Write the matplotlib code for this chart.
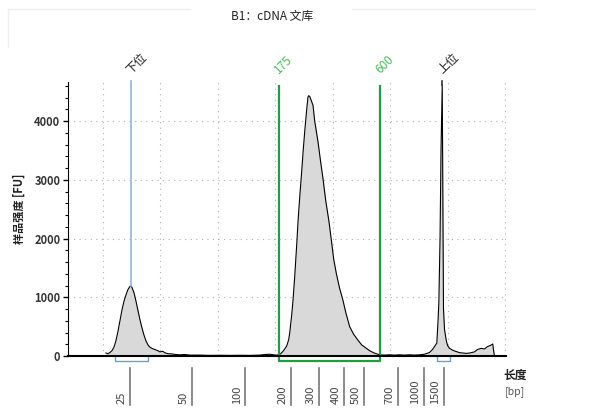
import matplotlib
matplotlib.use('Agg')
import matplotlib.pyplot as plt
import matplotlib.transforms as mtransforms
from matplotlib.lines import Line2D

plt.rcParams['font.family'] = ['Noto Sans CJK SC', 'DejaVu Sans']

# electropherogram trace (migration time units, fluorescence FU)
trace_x = [10.57, 10.92, 11.27, 11.62, 11.96, 12.31, 12.66, 13.01, 13.35, 13.70,
           14.05, 14.39, 14.74, 14.92, 15.09, 15.44, 15.78, 16.13, 16.48, 16.83,
           17.17, 17.52, 17.87, 18.22, 18.56, 19.08, 19.61, 19.95, 20.47, 20.82,
           21.34, 22.04, 22.73, 23.43, 24.30, 25.16, 26.90, 28.64, 30.38, 32.11,
           33.85, 35.59, 37.32, 38.19, 39.06, 39.76, 40.28, 40.62, 40.97, 41.32,
           41.67, 42.01, 42.36, 42.53, 42.88, 43.11, 43.40, 43.80, 43.98, 44.27,
           44.57, 44.88, 45.14, 45.49, 45.71, 45.83, 46.01, 46.27, 46.58, 46.88,
           47.45, 47.92, 48.32, 48.79, 49.36, 49.78, 50.18, 50.65, 51.22, 51.79,
           52.26, 52.96, 53.65, 54.40, 55.04, 55.86, 56.43, 57.13, 57.60, 58.17,
           59.04, 59.91, 60.77, 61.64, 62.51, 63.38, 64.25, 65.11, 65.98, 66.85,
           67.37, 67.72, 68.12, 68.33, 68.47, 68.68, 68.85, 69.06, 69.20, 69.28,
           69.46, 69.75, 69.98, 70.33, 70.85, 71.37, 72.07, 73.23, 73.81, 74.67,
           75.19, 75.83, 76.41, 76.93, 77.45, 77.85, 78.00, 78.14]
trace_fu = [50, 40, 60, 90, 150, 260, 420, 600, 780, 930,
            1040, 1130, 1185, 1195, 1170, 1080, 940, 780, 620, 480,
            360, 260, 190, 150, 130, 110, 90, 70, 80, 55,
            40, 35, 25, 20, 25, 15, 15, 10, 12, 10,
            12, 10, 15, 25, 30, 20, 15, 20, 40, 75,
            120, 170, 280, 390, 700, 950, 1350, 1975, 2290, 2700,
            3080, 3500, 3820, 4200, 4410, 4430, 4420, 4350, 4270, 4000,
            3650, 3300, 3020, 2650, 2290, 1970, 1650, 1400, 1150, 950,
            750, 500, 370, 270, 190, 130, 90, 55, 40, 20,
            15, 20, 15, 20, 15, 20, 15, 20, 30, 60,
            110, 160, 220, 600, 900, 2000, 3500, 4620, 2200, 800,
            450, 270, 180, 130, 100, 80, 57, 45, 50, 70,
            110, 130, 120, 160, 180, 205, 90, 0]

# size ladder
ladder_pos = [14.74, 25.51, 34.77, 42.71, 47.62, 51.97, 55.44, 61.35, 65.86, 69.29]
ladder_bp = ['25', '50', '100', '200', '300', '400', '500', '700', '1000', '1500']

lower_x, lower_peak = 14.92, 1195
upper_x, upper_peak = 69.06, 4620
region_x = [40.62, 58.22]
region_lbl = ['175', '600']
lower_box = [12.14, 17.87]
upper_box = [68.12, 70.45]

fig = plt.figure(figsize=(5.95, 4.13), dpi=100, facecolor='white')
ax = fig.add_axes([68 / 595, 57 / 413, 437.7 / 595, 274 / 413])

ax.fill_between(trace_x, trace_fu, 0, color='#d9d9d9', lw=0)
ax.plot(trace_x, trace_fu, color='black', lw=0.8)

ax.set_xlim(3.97, 80.1)
ax.set_ylim(0, 4665)
ax.set_xticks(range(10, 81, 10))
ax.set_yticks([0, 1000, 2000, 3000, 4000])
ax.set_yticks(range(0, 4665, 200), minor=True)
ax.tick_params(axis='x', length=0, labelbottom=False)
ax.tick_params(axis='y', which='major', length=3.5, width=1, labelsize=8, pad=2,
               labelcolor='#333333')
ax.tick_params(axis='y', which='minor', length=2, width=0.8)
for lab in ax.get_yticklabels():
    lab.set_fontweight('bold')
ax.grid(True, color='#b0b0b0', lw=0.8, linestyle=(0, (1, 4)))
ax.spines['top'].set_visible(False)
ax.spines['right'].set_visible(False)
ax.spines['bottom'].set_linewidth(1.5)
ax.set_axisbelow(True)

# markers
ax.plot([lower_x, lower_x], [lower_peak, 4680], color='#92b4dc', lw=1.2, clip_on=False)
ax.plot([upper_x, upper_x], [upper_peak, 4680], color='#333333', lw=1.2, clip_on=False)
for bx in (lower_box, upper_box):
    ax.plot([bx[0], bx[0], bx[1], bx[1]], [0, -85, -85, 0], color='#6a9fd8',
            lw=1, clip_on=False)
ax.plot([region_x[0], region_x[0], region_x[1], region_x[1]],
        [4600, -85, -85, 4600], color='#1f9e48', lw=1.6, clip_on=False)

xtr = ax.get_xaxis_transform()
top_y = (356 - 74) / 274
ax.text(lower_x, top_y, '下位', transform=xtr, rotation=45, rotation_mode='anchor',
        ha='left', va='baseline', fontsize=8.5, color='#222222')
ax.text(upper_x, top_y, '上位', transform=xtr, rotation=45, rotation_mode='anchor',
        ha='left', va='baseline', fontsize=8.5, color='#222222')
for rx, rl in zip(region_x, region_lbl):
    ax.text(rx, top_y, rl, transform=xtr, rotation=45, rotation_mode='anchor',
            ha='left', va='baseline', fontsize=8.5, color='#4cbb5c')

# ladder below the axis
lab_tr = mtransforms.offset_copy(xtr, fig=fig, x=-8.5, y=0, units='dots')
for lp, lb in zip(ladder_pos, ladder_bp):
    ax.add_line(Line2D([lp, lp], [-11.7 / 274, -49 / 274], transform=xtr,
                       color='#777777', lw=1.2, clip_on=False))
    ax.text(lp, -48 / 274, lb, transform=lab_tr, rotation=90, ha='center',
            va='bottom', fontsize=8, color='#444444')

fig.text(515 / 595, 1 - 375 / 413, '长度', ha='center', va='center', fontsize=8.5,
         fontweight='bold', color='#222222')
fig.text(515 / 595, 1 - 392 / 413, '[bp]', ha='center', va='center', fontsize=7.5,
         color='#555555')

fig.text(19 / 595, 1 - 209 / 413, '样品强度 [FU]', rotation=90, ha='center',
         va='center', fontsize=8, fontweight='bold', color='#222222')
fig.text(272 / 595, 1 - 16 / 413, 'B1：cDNA 文库', ha='center', va='center',
         fontsize=8.5, color='#222222')

# faint title frame
fig.add_artist(Line2D([8 / 595, 190 / 595], [1 - 8.5 / 413] * 2, color='#eeeeee', lw=1))
fig.add_artist(Line2D([352 / 595, 535 / 595], [1 - 8.5 / 413] * 2, color='#eeeeee', lw=1))
fig.add_artist(Line2D([8 / 595] * 2, [1 - 8.5 / 413, 1 - 46.5 / 413], color='#eeeeee', lw=1))

fig.savefig('out.png', dpi=100, facecolor='white')
